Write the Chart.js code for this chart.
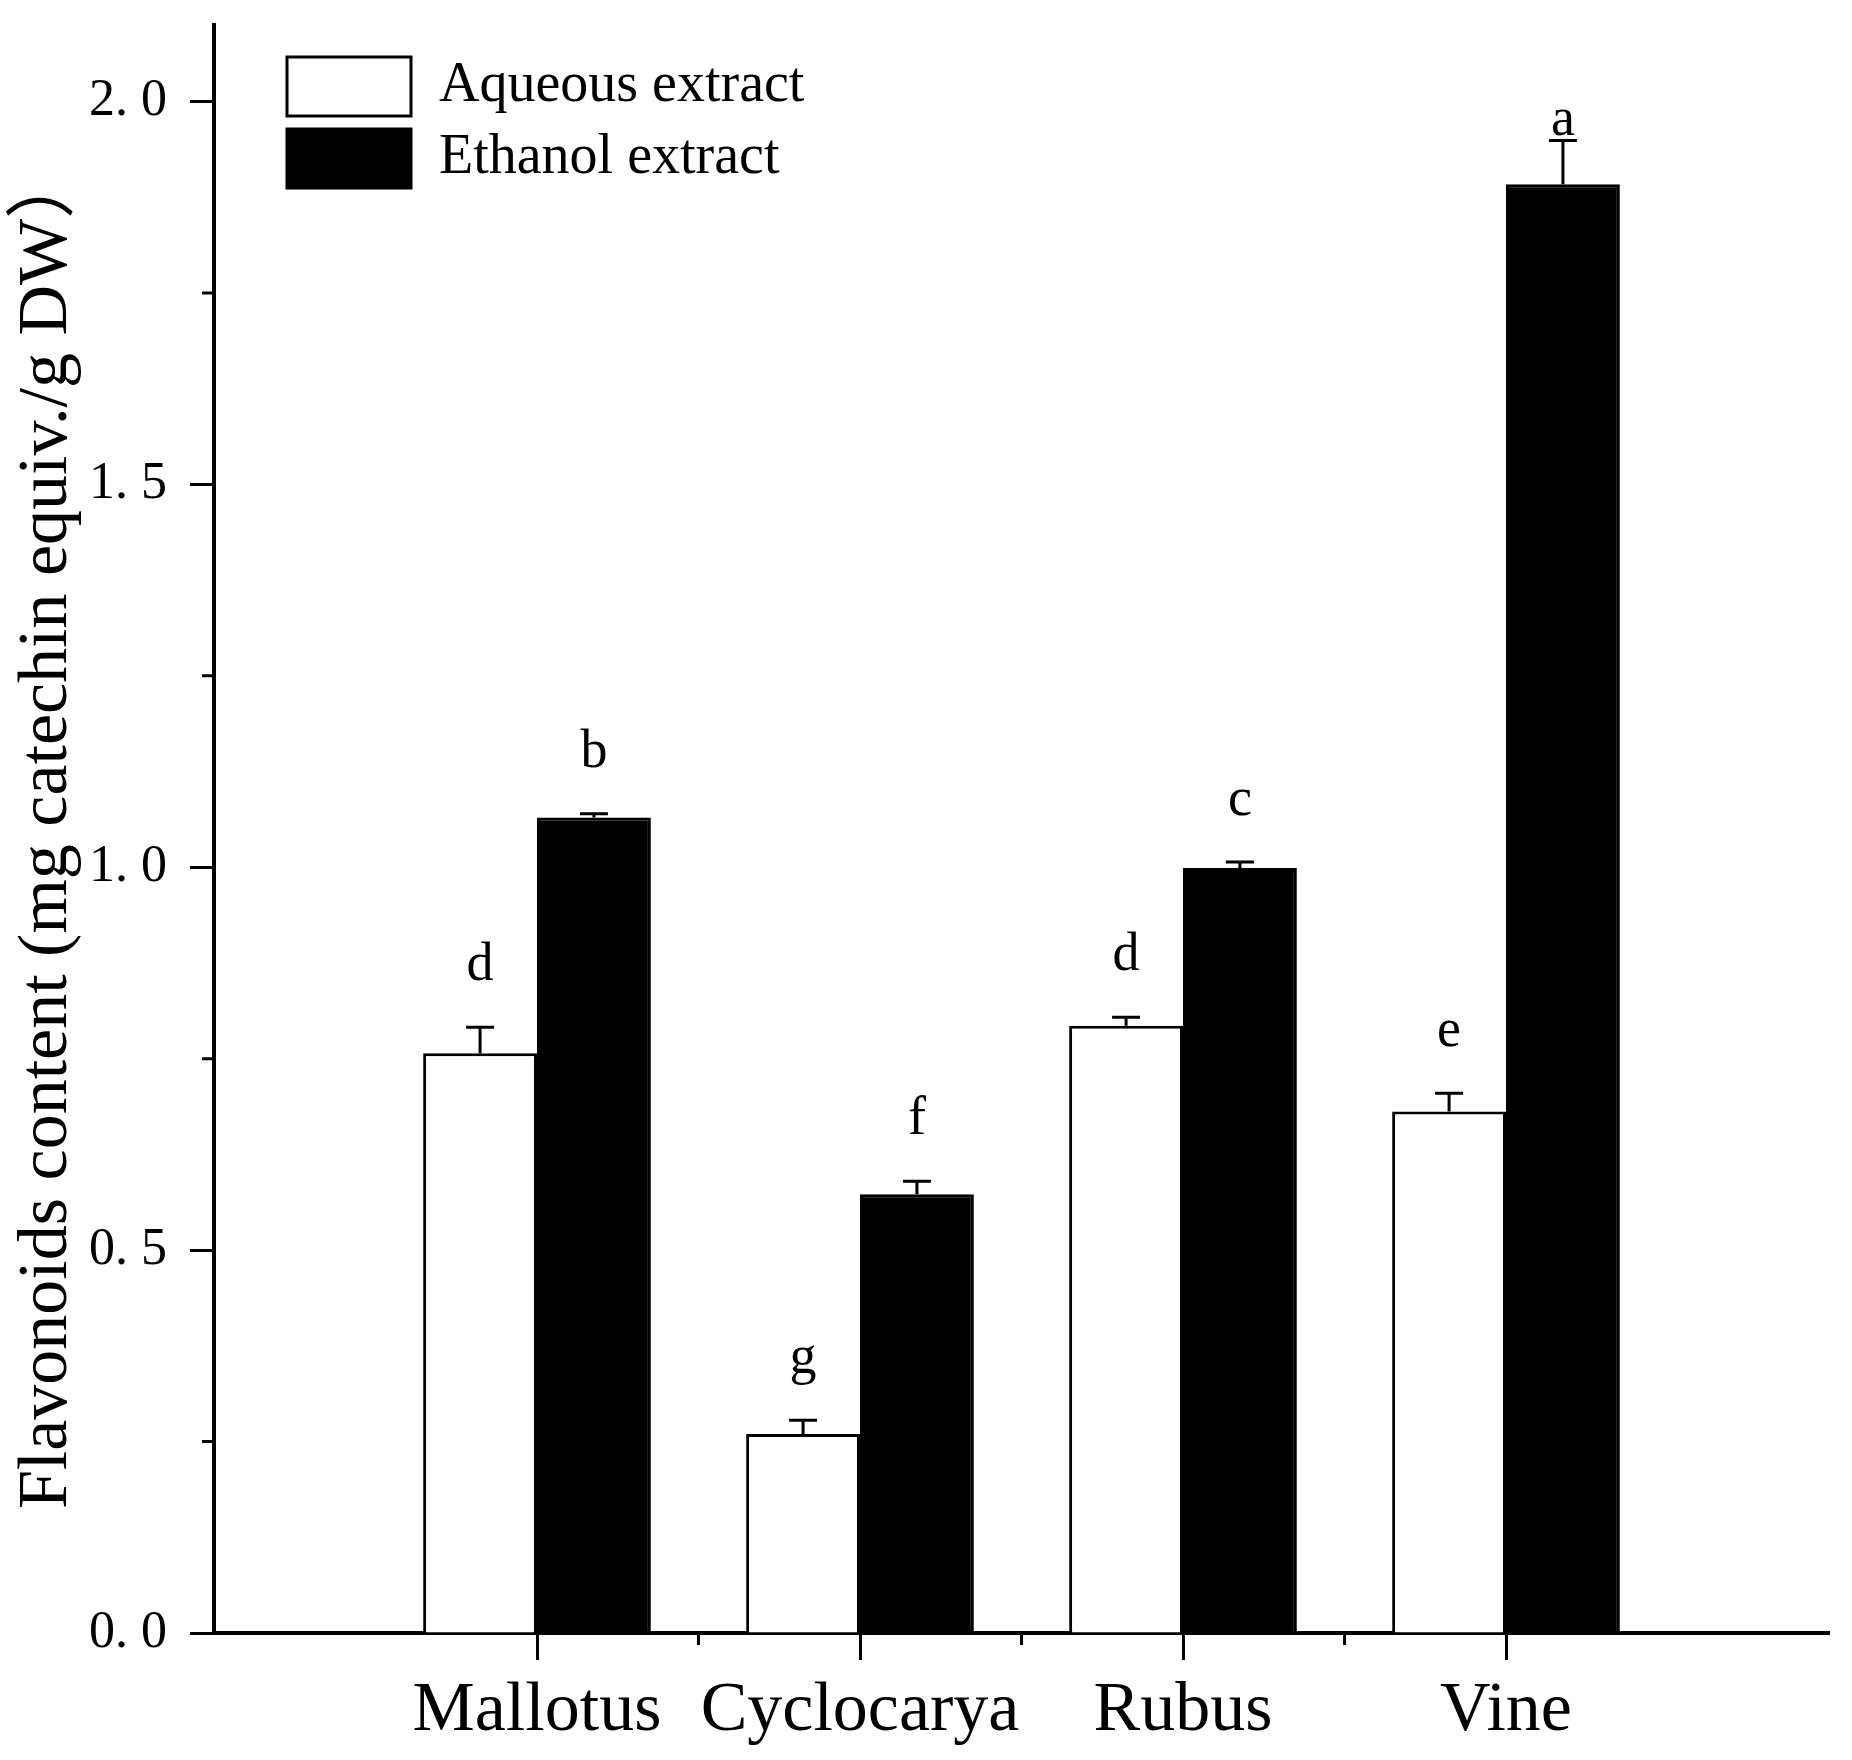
<!DOCTYPE html>
<html>
<head>
<meta charset="utf-8">
<script src="https://cdn.jsdelivr.net/npm/chart.js@4.4.1/dist/chart.umd.min.js"></script>
<style>
  html, body { margin: 0; padding: 0; background: #ffffff; }
  #wrap { width: 1852px; height: 1760px; }
</style>
</head>
<body>
<div id="wrap"><canvas id="c" width="1852" height="1760"></canvas></div>
<script>
// ---- data ----
const categories = ['Mallotus', 'Cyclocarya', 'Rubus', 'Vine'];
const seriesNames = ['Aqueous extract', 'Ethanol extract'];
const aqueous = [0.757, 0.260, 0.793, 0.681];
const aqueousErr = [0.034, 0.018, 0.011, 0.024];
const aqueousLetters = ['d', 'g', 'd', 'e'];
const ethanol = [1.065, 0.573, 0.999, 1.892];
const ethanolErr = [0.005, 0.017, 0.008, 0.057];
const ethanolLetters = ['b', 'f', 'c', 'a'];
const yTickValues = [0, 0.5, 1.0, 1.5, 2.0];
const yAxisTitle = 'Flavonoids content (mg catechin equiv./g DW）';

// padded category axis (empty slots at both ends)
const labels = [''].concat(categories, ['']);
const pad = arr => [null].concat(arr, [null]);

const SERIF = "'Liberation Serif', 'Times New Roman', 'Noto Sans CJK SC', serif";

const errorPlugin = {
  id: 'errorBars',
  afterDatasetsDraw(chart) {
    const ctx = chart.ctx;
    const y = chart.scales.y;
    const sets = [
      { vals: aqueous, errs: aqueousErr, letters: aqueousLetters },
      { vals: ethanol, errs: ethanolErr, letters: ethanolLetters }
    ];
    ctx.save();
    sets.forEach((s, di) => {
      const meta = chart.getDatasetMeta(di);
      s.vals.forEach((v, i) => {
        const bar = meta.data[i + 1];
        if (!bar) return;
        const x = bar.x;
        const yTop = y.getPixelForValue(v + s.errs[i]);
        ctx.strokeStyle = '#000';
        ctx.lineWidth = 3;
        ctx.beginPath();
        ctx.moveTo(x, bar.y);
        ctx.lineTo(x, yTop);
        ctx.moveTo(x - 14, yTop);
        ctx.lineTo(x + 14, yTop);
        ctx.stroke();
        ctx.fillStyle = '#000';
        ctx.font = '54px ' + SERIF;
        ctx.textAlign = 'center';
        ctx.textBaseline = 'alphabetic';
        const ly = Math.max(yTop - 47, chart.chartArea.top + 110);
        ctx.fillText(s.letters[i], x, ly);
      });
    });
    ctx.restore();
  }
};

const minorTicksPlugin = {
  id: 'minorTicks',
  afterDraw(chart) {
    const ctx = chart.ctx;
    const xs = chart.scales.x, ys = chart.scales.y;
    const area = chart.chartArea;
    ctx.save();
    ctx.strokeStyle = '#000';
    ctx.lineWidth = 3;
    ctx.beginPath();
    for (let i = 0; i < yTickValues.length - 1; i++) {
      const v = (yTickValues[i] + yTickValues[i + 1]) / 2;
      const py = ys.getPixelForValue(v);
      ctx.moveTo(area.left - 12, py);
      ctx.lineTo(area.left, py);
    }
    for (let i = 1; i < categories.length; i++) {
      const px = xs.getPixelForValue(i + 0.5);
      ctx.moveTo(px, area.bottom);
      ctx.lineTo(px, area.bottom + 12);
    }
    ctx.stroke();
    ctx.restore();
  }
};

const legendShift = {
  id: 'legendShift',
  afterLayout(chart) {
    if (chart.legend) {
      chart.legend.left += 60;
      chart.legend.top += 44;
    }
  }
};

new Chart(document.getElementById('c'), {
  type: 'bar',
  data: {
    labels: labels,
    datasets: [
      {
        label: seriesNames[0],
        data: pad(aqueous),
        backgroundColor: '#ffffff',
        borderColor: '#000000',
        borderWidth: 3,
        categoryPercentage: 0.705,
        barPercentage: 1.0
      },
      {
        label: seriesNames[1],
        data: pad(ethanol),
        backgroundColor: '#000000',
        borderColor: '#000000',
        borderWidth: 3,
        categoryPercentage: 0.705,
        barPercentage: 1.0
      }
    ]
  },
  options: {
    responsive: false,
    devicePixelRatio: 1,
    animation: false,
    layout: { padding: { top: 25, right: 23, bottom: 0, left: 0 } },
    plugins: {
      tooltip: { enabled: false },
      legend: {
        position: 'chartArea',
        align: 'start',
        labels: {
          boxWidth: 124,
          boxHeight: 59,
          padding: 13,
          color: '#000',
          font: { family: SERIF, size: 56 }
        }
      }
    },
    scales: {
      x: {
        offset: false,
        grid: {
          offset: false,
          drawOnChartArea: false,
          drawTicks: true,
          tickLength: 27,
          tickWidth: 3,
          tickColor: (c) => (c.index >= 1 && c.index <= categories.length) ? '#000' : 'rgba(0,0,0,0)'
        },
        border: { display: true, color: '#000', width: 4 },
        ticks: {
          autoSkip: false,
          maxRotation: 0,
          padding: 17,
          color: '#000',
          font: { family: SERIF, size: 70, lineHeight: 1.0 }
        },
        afterFit: (s) => { s.height = 127; }
      },
      y: {
        min: 0,
        max: 2.1,
        grid: {
          drawOnChartArea: false,
          drawTicks: true,
          tickLength: 24,
          tickWidth: 3,
          tickColor: '#000'
        },
        border: { display: true, color: '#000', width: 4 },
        ticks: {
          stepSize: 0.5,
          includeBounds: false,
          padding: 23,
          color: '#000',
          font: { family: SERIF, size: 52 },
          callback: (v) => yTickValues.includes(v) ? v.toFixed(1).replace('.', '. ') : ''
        },
        title: {
          display: true,
          text: yAxisTitle,
          color: '#000',
          font: { family: SERIF, size: 70, lineHeight: 1.0 },
          padding: { top: 13, bottom: 0 }
        },
        afterFit: (s) => { s.width = 214; s.paddingTop = 0; s.paddingBottom = 0; }
      }
    }
  },
  plugins: [errorPlugin, minorTicksPlugin, legendShift]
});
</script>
</body>
</html>
